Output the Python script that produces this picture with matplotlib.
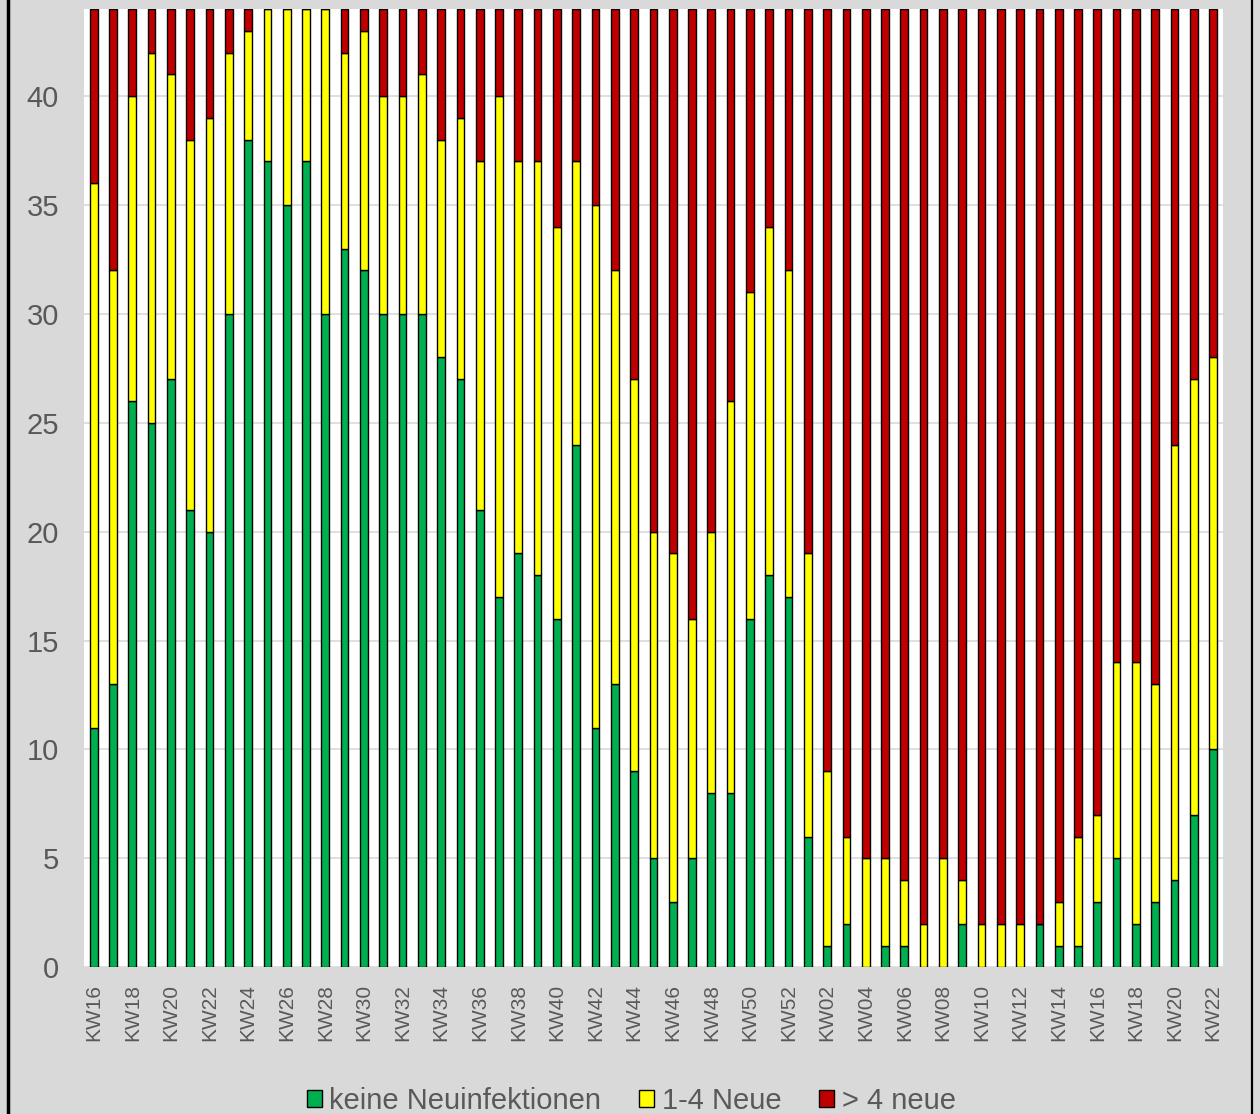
import numpy as np
import matplotlib
matplotlib.use("Agg")
from matplotlib import pyplot as plt
from matplotlib.lines import Line2D

# week labels: KW16..KW52 (2020), KW01..KW22 (2021)
weeks = ["KW%02d" % w for w in range(16, 53)] + ["KW%02d" % w for w in range(1, 23)]

# keine Neuinfektionen
green = [11, 13, 26, 25, 27, 21, 20, 30, 38, 37, 35, 37, 30, 33, 32, 30, 30, 30, 28, 27,
         21, 17, 19, 18, 16, 24, 11, 13, 9, 5, 3, 5, 8, 8, 16, 18, 17, 6, 1, 2,
         0, 1, 1, 0, 0, 2, 0, 0, 0, 2, 1, 1, 3, 5, 2, 3, 4, 7, 10]
# 1-4 Neue
yellow = [25, 19, 14, 17, 14, 17, 19, 12, 5, 7, 9, 7, 14, 9, 11, 10, 10, 11, 10, 12,
          16, 23, 18, 19, 18, 13, 24, 19, 18, 15, 16, 11, 12, 18, 15, 16, 15, 13, 8, 4,
          5, 4, 3, 2, 5, 2, 2, 2, 2, 0, 2, 5, 4, 9, 12, 10, 20, 20, 18]
# > 4 neue
red = [8, 12, 4, 2, 3, 6, 5, 2, 1, 0, 0, 0, 0, 2, 1, 4, 4, 3, 6, 5,
       7, 4, 7, 7, 10, 7, 9, 12, 17, 24, 25, 28, 24, 18, 13, 10, 12, 25, 35, 38,
       39, 39, 40, 42, 39, 40, 42, 42, 42, 42, 41, 38, 37, 30, 30, 31, 20, 17, 16]

legend_labels = ["keine Neuinfektionen", "1-4 Neue", "> 4 neue"]
colors = ["#00B050", "#FFFF00", "#C00000"]

plt.rcParams['font.family'] = ['Liberation Sans', 'DejaVu Sans']

fig = plt.figure(figsize=(12.6, 11.14), dpi=100, facecolor="#D9D9D9")
ax = fig.add_axes([0.0667, 0.1317, 0.9037, 0.8602])
ax.set_facecolor("white")

x = np.arange(len(weeks))
g = np.array(green)
y = np.array(yellow)
r = np.array(red)
w = 0.4
ax.bar(x, g, w, color=colors[0], edgecolor="black", linewidth=1.0, label=legend_labels[0], zorder=3)
ax.bar(x, y, w, bottom=g, color=colors[1], edgecolor="black", linewidth=1.0, label=legend_labels[1], zorder=3)
ax.bar(x, r, w, bottom=g + y, color=colors[2], edgecolor="black", linewidth=1.0, label=legend_labels[2], zorder=3)

ax.set_xlim(-0.5, len(weeks) - 0.5)
ax.set_ylim(0, 44)
ax.set_yticks(range(0, 41, 5))
ax.yaxis.grid(True, color="#D9D9D9", linewidth=1.2, zorder=0)
ax.set_xticks(x[::2])
ax.set_xticklabels(weeks[::2], rotation=90)
ax.tick_params(axis="y", length=0, pad=18, labelsize=21, labelcolor="#595959")
ax.tick_params(axis="x", length=0, pad=12, labelsize=15, labelcolor="#595959")
for s in ax.spines.values():
    s.set_visible(False)

fig.legend(loc="center", bbox_to_anchor=(0.501, 0.012), ncol=3, frameon=False,
           fontsize=21, labelcolor="#595959", handlelength=0.52, handleheight=0.52,
           handletextpad=0.25, columnspacing=1.3, borderaxespad=0, borderpad=0)

# chart border (left and right edges visible)
fig.add_artist(Line2D([7.5 / 1260, 7.5 / 1260], [0, 1], color="black", linewidth=2.5))
fig.add_artist(Line2D([1251.5 / 1260, 1251.5 / 1260], [0, 1], color="black", linewidth=1.6))

fig.savefig("out.png", dpi=100, facecolor=fig.get_facecolor())
